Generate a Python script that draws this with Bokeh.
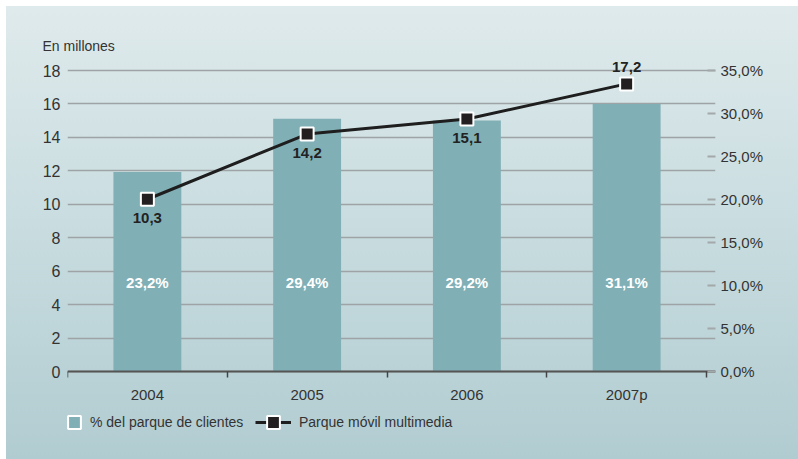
from bokeh.plotting import figure
from bokeh.models import (Range1d, LinearAxis, FixedTicker, ColumnDataSource,
                          LabelSet, Legend, LegendItem)
from bokeh.embed import file_html
from bokeh.resources import INLINE
from bokeh.core.properties import value

# ---- data ----
years = ["2004", "2005", "2006", "2007p"]
share_pct = [23.2, 29.4, 29.2, 31.1]            # % del parque de clientes (right axis)
multimedia_millions = [10.3, 14.2, 15.1, 17.2]  # Parque móvil multimedia (left axis)
left_ticks = list(range(0, 19, 2))
right_ticks = list(range(0, 36, 5))
y_axis_title = "En millones"
bar_legend = "% del parque de clientes"
line_legend = "Parque móvil multimedia"


def fmt_es(v):
    return f"{v:.1f}".replace(".", ",")


# ---- layout / style constants (pixels) ----
W, H = 798, 459
FRAME_L, FRAME_R = 67, 715
AXIS_TOP_PX, AXIS_ZERO_PX = 70, 371       # pixel rows of top tick and of zero
FRAME_T = 55
CAT_PX = 160
BAR_COLOR = "#80afb6"
TEXT_COLOR = "#333333"
NUM_FONT = "Liberation Sans"
TXT_FONT = "Liberation Sans"

n = len(years)
xs = list(range(n))
offsets = [17 if i == n - 1 else -19 for i in range(n)]

ymax = left_ticks[-1]
px_per_unit = (AXIS_ZERO_PX - AXIS_TOP_PX) / ymax
y_top = ymax + (AXIS_TOP_PX - FRAME_T) / px_per_unit
y_bot = -(H - AXIS_ZERO_PX) / px_per_unit
pct_scale = right_ticks[-1] / ymax

src = ColumnDataSource(dict(
    x=xs,
    pct=share_pct,
    pct_label=[fmt_es(v) + "%" for v in share_pct],
    val=multimedia_millions,
    val_label=[fmt_es(v) for v in multimedia_millions],
    off=offsets,
))

p = figure(width=W, height=H, output_backend="svg", toolbar_location=None,
           x_axis_location=None,
           x_range=Range1d(-0.5, n - 0.5 + 9 / CAT_PX),
           y_range=Range1d(y_bot, y_top),
           min_border_left=FRAME_L, min_border_right=W - FRAME_R,
           min_border_top=FRAME_T, min_border_bottom=0)
p.extra_y_ranges = {"pct": Range1d(y_bot * pct_scale, y_top * pct_scale)}
p.background_fill_alpha = 0
p.border_fill_alpha = 0
p.outline_line_color = None
p.styles = {"background": "linear-gradient(to bottom, #dfeaec 0%, #c8dcdf 50%, #b1ccd1 100%) 6px 6px / 792px 453px no-repeat #ffffff"}

# title "En millones"
p.title.text = y_axis_title
p.title.align = "left"
p.title.offset = -25
p.title.text_font = TXT_FONT
p.title.text_font_size = "14px"
p.title.text_font_style = "normal"
p.title.text_color = TEXT_COLOR
p.title.standoff = 4

# left axis
yax = p.yaxis[0]
yax.ticker = FixedTicker(ticks=left_ticks)
yax.axis_line_color = None
yax.major_tick_line_color = None
yax.minor_tick_line_color = None
yax.major_tick_out = 0
yax.major_tick_in = 0
yax.major_label_standoff = 7
yax.major_label_text_font = NUM_FONT
yax.major_label_text_font_size = "16px"
yax.major_label_text_color = TEXT_COLOR

# bottom axis, fixed at y = 0 inside the frame
xax = LinearAxis(fixed_location=0,
                 ticker=FixedTicker(ticks=xs, minor_ticks=[i - 0.5 for i in range(n + 1)]))
xax.major_label_overrides = {i: y for i, y in zip(xs, years)}
xax.major_tick_line_color = None
xax.major_tick_out = 0
xax.major_tick_in = 0
xax.minor_tick_out = 6
xax.minor_tick_in = 0
xax.minor_tick_line_color = "#444444"
xax.minor_tick_line_width = 1.5
xax.axis_line_color = "#555555"
xax.axis_line_width = 2
xax.major_label_standoff = 8
xax.major_label_text_font = NUM_FONT
xax.major_label_text_font_size = "15px"
xax.major_label_text_color = TEXT_COLOR
p.add_layout(xax, "below")

# right axis
rax = LinearAxis(y_range_name="pct", ticker=FixedTicker(ticks=right_ticks))
rax.major_label_overrides = {t: fmt_es(t) + "%" for t in right_ticks}
rax.axis_line_color = None
rax.minor_tick_line_color = None
rax.major_tick_in = 8
rax.major_tick_out = 0
rax.major_tick_line_color = "#a3a8a9"
rax.major_tick_line_width = 2
rax.major_label_standoff = 5
rax.major_label_text_font = NUM_FONT
rax.major_label_text_font_size = "15px"
rax.major_label_text_color = TEXT_COLOR
p.add_layout(rax, "right")

# grid
for g in p.xgrid:
    g.visible = False
p.ygrid.grid_line_color = "#9ea3a5"
p.ygrid.grid_line_width = 1.5

# bars
p.vbar(x="x", top="pct", width=0.425, y_range_name="pct", source=src,
       fill_color=BAR_COLOR, line_color=None)

# legend proxy for the bars: zero-size markers (hidden under the line markers);
# the legend draws its own square from the legend box size
r_leg = p.scatter("x", "val", source=src, marker="square", size=0,
                  fill_color=BAR_COLOR, line_color="white", line_width=2)

# line + markers
r_line = p.line("x", "val", source=src, line_color="#1e1e1e", line_width=3)
r_pts = p.scatter("x", "val", source=src, marker="square", size=13,
                  fill_color="#231f20", line_color="white", line_width=2)

# labels
p.add_layout(LabelSet(x="x", y="val", text="val_label", y_offset="off", source=src,
                      text_align="center", text_baseline="middle",
                      text_font=value(NUM_FONT), text_font_style="bold",
                      text_font_size="15px", text_color="#222222"))
p.add_layout(LabelSet(x="x", y=5.3, text="pct_label", source=src,
                      text_align="center", text_baseline="middle",
                      text_font=value(NUM_FONT), text_font_style="bold",
                      text_font_size="15px", text_color="white"))

common = dict(padding=0, margin=0, spacing=0, border_line_color=None,
              background_fill_alpha=0, label_text_font=TXT_FONT,
              label_text_font_size="14px", label_text_color=TEXT_COLOR)
leg1 = Legend(items=[LegendItem(label=bar_legend, renderers=[r_leg])],
              location=(-9, 21), glyph_width=32, glyph_height=32,
              label_height=32, label_standoff=-5, **common)
leg2 = Legend(items=[LegendItem(label=line_legend, renderers=[r_line, r_pts])],
              location=(188, 21), glyph_width=36, glyph_height=32,
              label_height=32, label_standoff=8, **common)
p.add_layout(leg1, "center")
p.add_layout(leg2, "center")

open("out.html", "w").write(file_html(p, INLINE))
